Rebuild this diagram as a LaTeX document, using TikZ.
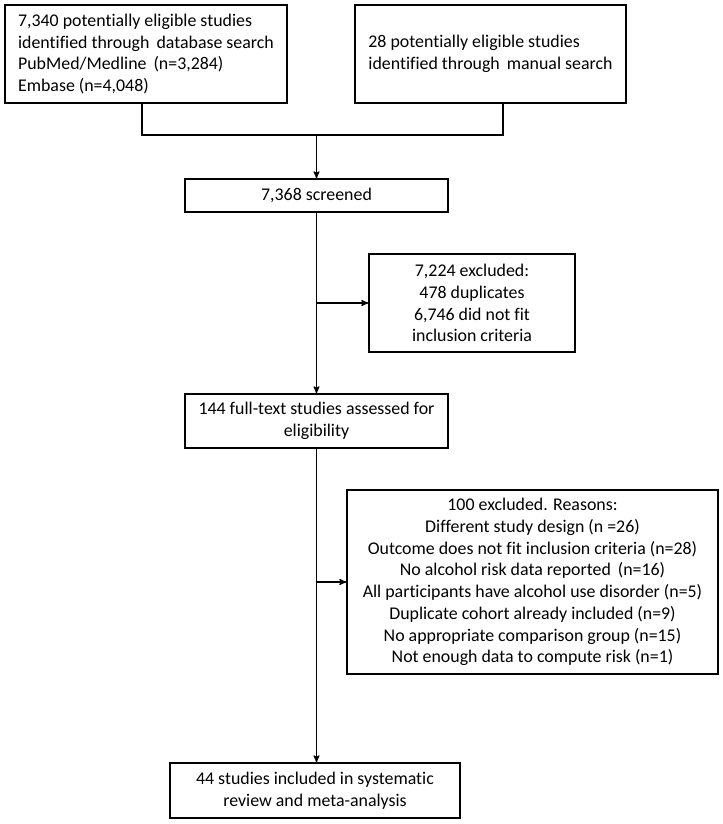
\documentclass[tikz,border=0pt]{standalone}
\usepackage{fontspec}
\setmainfont{Carlito}[Ligatures=NoCommon]
\usepackage{tikz}
\usetikzlibrary{arrows,positioning}
\tikzset{
    %Define standard arrow tip
    >=stealth',
    %Define style for boxes
    flowbox/.style={
           rectangle,
           draw=black, line width=0.9pt,
           inner sep=0pt,
           font=\fontsize{13.4}{16.3}\selectfont,
           align=center},
    leftbox/.style={
           flowbox,
           align=left},
    % Define arrow style
    pil/.style={
           ->,
           line width=0.9pt},
    link/.style={
           line width=0.9pt}
}
\begin{document}
\begin{tikzpicture}[x=0.75pt,y=-0.75pt]
\useasboundingbox (0,0) rectangle (722,824);
 %nodes
\node[leftbox, minimum width=282*0.75pt, minimum height=98*0.75pt](dbsearch) at (146,54)
  {7,340 potentially eligible studies\\identified through\, database search\\PubMed/Medline\, (n=3,284)\\Embase (n=4,048)};
\node[leftbox, minimum width=271*0.75pt, minimum height=98*0.75pt](manual) at (490.5,54)
  {28 potentially eligible studies\\identified through\, manual search};
\node[flowbox, minimum width=263*0.75pt, minimum height=33*0.75pt](screened) at (316.5,195.5)
  {7,368 screened};
\node[flowbox, minimum width=206*0.75pt, minimum height=98*0.75pt](excl1) at (472,303)
  {7,224 excluded:\\478 duplicates\\6,746 did not fit\\inclusion criteria};
\node[flowbox, minimum width=263*0.75pt, minimum height=54*0.75pt](fulltext) at (316.5,421)
  {144 full-text studies assessed for\\eligibility};
\node[flowbox, minimum width=371*0.75pt, minimum height=184*0.75pt](excl2) at (532.5,582)
  {100 excluded. Reasons:\\Different study design (n =26)\\Outcome does not fit inclusion criteria (n=28)\\No alcohol risk data reported\, (n=16)\\All participants have alcohol use disorder (n=5)\\Duplicate cohort already included (n=9)\\No appropriate comparison group (n=15)\\Not enough data to compute risk (n=1)};
\node[flowbox, minimum width=290*0.75pt, minimum height=55*0.75pt](included) at (315,790.5)
  {44 studies included in systematic\\review and meta-analysis};
 %junction
\coordinate (jA) at (142,135);
\coordinate (jB) at (503,135);
 %edges
\draw[link] (jA |- dbsearch.south) -- (jA) -- (jB) -- (jB |- manual.south);
\draw[pil] (screened.north |- jA) -- (screened.north);
\draw[pil] (screened.south) -- (fulltext.north);
\draw[pil] (screened.south |- excl1.west) -- (excl1.west);
\draw[pil] (fulltext.south) -- (fulltext.south |- included.north);
\draw[pil] (fulltext.south |- excl2.west) -- (excl2.west);
\end{tikzpicture}
\end{document}
